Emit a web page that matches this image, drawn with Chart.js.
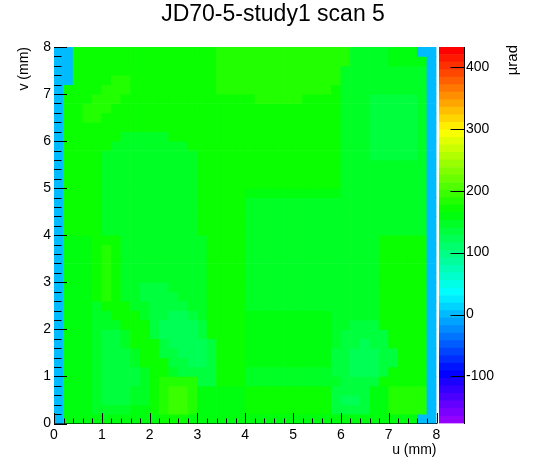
<!DOCTYPE html>
<html lang="en">
<head>
<meta charset="UTF-8">
<title>JD70-5-study1 scan 5</title>
<script src="https://cdn.jsdelivr.net/npm/chart.js"></script>
<style>
  html, body { margin: 0; padding: 0; background: #fff; }
  #wrap { position: relative; width: 546px; height: 472px; }
  .layer { position: absolute; left: 0; top: 0; width: 546px; height: 472px; }
</style>
</head>
<body>
<div id="wrap">
  <div class="layer"><canvas id="mapChart"></canvas></div>
  <div class="layer"><canvas id="barChart"></canvas></div>
</div>
<script>
// bin centres (mm)
const uMid = [0.1, 0.3, 0.5, 0.7, 0.9, 1.1, 1.3, 1.5, 1.7, 1.9,
              2.1, 2.3, 2.5, 2.7, 2.9, 3.1, 3.3, 3.5, 3.7, 3.9,
              4.1, 4.3, 4.5, 4.7, 4.9, 5.1, 5.3, 5.5, 5.7, 5.9,
              6.1, 6.3, 6.5, 6.7, 6.9, 7.1, 7.3, 7.5, 7.7, 7.9];
// rows, top row first
const vMid = [7.9, 7.7, 7.5, 7.3, 7.1, 6.9, 6.7, 6.5, 6.3, 6.1,
              5.9, 5.7, 5.5, 5.3, 5.1, 4.9, 4.7, 4.5, 4.3, 4.1,
              3.9, 3.7, 3.5, 3.3, 3.1, 2.9, 2.7, 2.5, 2.3, 2.1,
              1.9, 1.7, 1.5, 1.3, 1.1, 0.9, 0.7, 0.5, 0.3, 0.1];
const binHalf = 0.1;

const zMin = -175.9;
const zMax = 432;
const zTicks = [-100, 0, 100, 200, 300, 400];

// deflection in µrad, one array per row (top first), one value per u bin
const deflection = [
  [0,0,170,170,170,170,170,170,170,170, 170,170,170,170,170,170,170,182,182,182, 182,182,182,182,182,182,182,182,182,182, 182,146,146,146,146,158,158,158,0,0],
  [0,0,170,170,170,170,170,170,170,170, 170,170,170,170,170,170,170,182,182,182, 182,182,182,182,182,182,182,182,182,182, 182,146,146,146,146,158,158,158,158,0],
  [0,0,170,170,170,170,170,170,170,170, 170,170,170,170,170,170,170,182,182,182, 182,182,182,182,182,182,182,182,182,182, 146,146,146,146,146,146,146,146,146,0],
  [0,0,170,170,170,170,182,182,170,170, 170,170,170,170,170,170,170,182,182,182, 182,182,182,182,182,182,182,182,182,182, 146,146,146,146,146,146,146,146,146,0],
  [0,170,170,170,170,182,182,182,170,170, 170,170,170,170,170,170,170,182,182,182, 182,182,182,182,182,182,182,182,182,170, 146,146,146,146,146,146,146,146,146,0],
  [0,170,170,170,182,182,182,170,170,170, 170,170,170,170,170,170,170,170,170,170, 170,182,182,182,182,182,170,170,170,170, 146,146,146,134,134,134,134,134,146,0],
  [0,170,170,182,182,182,170,170,170,170, 170,170,170,170,170,170,170,170,170,170, 170,170,170,170,170,170,170,170,170,170, 146,146,146,134,134,134,134,134,146,0],
  [0,170,170,182,182,170,170,170,170,170, 170,170,170,170,170,170,170,170,170,170, 170,170,170,170,170,170,170,170,170,170, 146,146,146,134,134,134,134,134,146,0],
  [0,170,170,170,170,170,170,170,170,170, 170,170,170,170,170,170,170,170,170,170, 170,170,170,170,170,170,170,170,170,170, 146,146,146,134,134,134,134,134,146,0],
  [0,170,170,170,170,170,170,146,146,146, 146,146,170,170,170,170,170,170,170,170, 170,170,170,170,170,170,170,170,170,170, 146,146,146,134,134,134,134,134,146,0],
  [0,170,170,170,170,170,146,146,146,146, 146,146,146,146,170,170,170,170,170,170, 170,170,170,170,170,170,170,170,170,170, 146,146,146,134,134,134,134,134,146,0],
  [0,170,170,170,170,146,146,146,146,146, 146,146,146,146,146,170,170,170,170,170, 170,170,170,170,170,170,170,170,170,170, 146,146,146,134,134,134,134,134,146,0],
  [0,170,170,170,170,146,146,146,146,146, 146,146,146,146,146,170,170,170,170,170, 170,170,170,170,170,170,170,170,170,170, 146,146,146,146,146,146,146,146,146,0],
  [0,170,170,170,170,146,146,146,146,146, 146,146,146,146,146,170,170,170,170,170, 170,170,170,170,170,170,170,170,170,170, 146,146,146,146,146,146,146,146,146,0],
  [0,170,170,170,170,146,146,146,146,146, 146,146,146,146,146,170,170,170,170,170, 170,170,170,170,170,170,170,170,170,170, 146,146,146,146,146,146,146,146,146,0],
  [0,170,170,170,170,146,146,146,146,146, 146,146,146,146,146,170,170,170,170,170, 158,158,158,158,158,158,158,158,158,158, 146,146,146,146,146,146,146,146,146,0],
  [0,170,170,170,170,146,146,146,146,146, 146,146,146,146,146,170,170,170,170,170, 146,146,146,146,146,146,146,146,146,146, 146,146,146,146,146,146,146,146,146,0],
  [0,170,170,170,170,146,146,146,146,146, 146,146,146,146,146,170,170,170,170,170, 146,146,146,146,146,146,146,146,146,146, 146,146,146,146,146,146,146,146,146,0],
  [0,170,170,170,170,146,146,146,146,146, 146,146,146,146,146,170,170,170,170,170, 146,146,146,146,146,146,146,146,146,146, 146,146,146,146,146,146,146,146,146,0],
  [0,170,170,170,170,146,146,146,146,146, 146,146,146,146,146,170,170,170,170,170, 146,146,146,146,146,146,146,146,146,146, 146,146,146,146,146,146,146,146,146,0],
  [0,158,158,158,170,170,170,146,146,146, 146,146,146,146,146,146,170,170,170,170, 146,146,146,146,146,146,146,146,146,146, 146,146,146,146,170,170,170,170,170,0],
  [0,158,158,158,170,182,170,146,146,146, 146,146,146,146,146,146,170,170,170,170, 146,146,146,146,146,146,146,146,146,146, 146,146,146,146,170,170,170,170,170,0],
  [0,158,158,158,170,182,170,146,146,146, 146,146,146,146,146,146,170,170,170,170, 146,146,146,146,146,146,146,146,146,146, 146,146,146,146,170,170,170,170,170,0],
  [0,158,158,158,170,182,170,146,146,146, 146,146,146,146,146,146,170,170,170,170, 146,146,146,146,146,146,146,146,146,146, 146,146,146,146,170,170,170,170,170,0],
  [0,158,158,158,170,182,170,146,146,146, 146,146,146,146,146,146,170,170,170,170, 146,146,146,146,146,146,146,146,146,146, 146,146,146,146,170,170,170,170,170,0],
  [0,158,158,158,170,182,170,146,146,134, 134,134,146,146,146,146,170,170,170,170, 146,146,146,146,146,146,146,146,146,146, 146,146,146,146,170,170,170,170,170,0],
  [0,158,158,158,170,182,170,146,146,134, 134,134,134,146,146,146,170,170,170,170, 146,146,146,146,146,146,146,146,146,146, 146,146,146,146,170,170,170,170,170,0],
  [0,158,158,158,146,170,170,170,146,146, 134,134,134,134,146,146,170,170,170,170, 146,146,146,146,146,146,146,146,146,146, 146,146,146,146,170,170,170,170,170,0],
  [0,158,158,158,146,146,170,170,170,146, 134,134,122,122,134,146,170,170,170,170, 158,158,158,158,158,158,158,158,158,146, 146,146,146,146,170,170,170,170,170,0],
  [0,158,158,158,146,146,146,170,170,170, 134,122,122,122,122,134,170,170,170,170, 158,158,158,158,158,158,158,158,158,146, 146,134,134,134,170,170,170,170,170,0],
  [0,158,158,158,146,134,134,146,170,170, 134,122,122,122,122,134,170,170,170,170, 158,158,158,158,158,158,158,158,158,146, 134,134,134,134,134,170,170,170,170,0],
  [0,158,158,158,146,134,134,146,170,170, 170,134,122,122,122,122,134,170,170,170, 158,158,158,158,158,158,158,158,158,146, 134,134,122,134,134,170,170,170,170,0],
  [0,158,158,158,146,134,134,134,146,170, 170,134,134,122,122,122,134,170,170,170, 158,158,158,158,158,158,158,158,158,134, 134,122,122,122,134,134,170,170,170,0],
  [0,158,158,158,146,134,134,134,146,170, 170,170,134,134,122,122,134,170,170,170, 158,158,158,158,158,158,158,158,158,134, 134,122,122,122,134,134,170,170,170,0],
  [0,158,158,158,146,134,134,134,134,146, 170,170,146,134,134,134,134,170,170,170, 146,146,146,146,146,146,146,146,146,134, 134,122,122,122,134,170,170,170,170,0],
  [0,158,158,158,146,134,134,134,134,146, 170,182,182,182,182,134,134,170,170,170, 146,146,146,146,146,146,146,146,146,146, 134,134,134,134,170,170,170,170,170,0],
  [0,158,158,158,146,134,134,134,146,146, 170,182,195,195,182,158,158,158,158,158, 170,170,170,170,170,170,170,170,170,134, 134,134,134,158,158,182,182,182,182,0],
  [0,158,158,158,146,134,134,134,146,146, 170,182,195,195,182,158,158,158,158,158, 170,170,170,170,170,170,170,170,170,134, 122,122,134,158,158,182,182,182,182,0],
  [0,158,158,158,146,146,146,146,158,158, 170,182,195,195,182,158,158,158,158,158, 170,170,170,170,170,170,170,170,170,134, 134,134,134,158,158,182,182,182,182,0],
  [0,158,158,158,158,158,158,158,158,158, 158,170,170,170,158,158,158,158,158,158, 158,158,158,158,158,158,158,158,158,158, 158,158,158,158,158,158,158,158,0,0]
];

// ROOT "pretty" palette: 50 hues from violet to red
const nLevels = 50;
const palette = [];
for (let i = 0; i < nLevels; i++) {
  palette.push('hsl(' + (280 - (i + 1) * 5.6).toFixed(1) + ',100%,50%)');
}
function colorOf(z) {
  let k = Math.floor((z - zMin) / (zMax - zMin) * nLevels);
  k = Math.max(0, Math.min(nLevels - 1, k));
  return palette[k];
}

const fontFamily = "'Liberation Sans', Arial, Helvetica, sans-serif";
Chart.defaults.font.family = fontFamily;
Chart.defaults.color = '#000';

// inward tick marks, ROOT style
const mapTicks = {
  id: 'mapTicks',
  afterDraw(chart) {
    const {ctx, chartArea: a, scales: {x, y}} = chart;
    ctx.save();
    ctx.strokeStyle = '#000';
    ctx.lineWidth = 1;
    ctx.beginPath();
    for (let k = 0; k <= 40; k++) {
      const major = k % 5 === 0;
      const px = Math.round(x.getPixelForValue(k / 5)) + 0.5;
      ctx.moveTo(px, a.bottom);
      ctx.lineTo(px, a.bottom - (major ? 10.5 : 5));
      const py = Math.round(y.getPixelForValue(k / 5)) + 0.5;
      ctx.moveTo(a.left, py);
      ctx.lineTo(a.left + (major ? 13 : 7.5), py);
    }
    ctx.stroke();
    ctx.restore();
  }
};

const mapSets = deflection.map((row, r) => ({
  data: row.map((z, c) => ({x: uMid[c], y: [vMid[r] - binHalf, vMid[r] + binHalf]})),
  backgroundColor: row.map(colorOf)
}));

new Chart(document.getElementById('mapChart'), {
  type: 'bar',
  data: { datasets: mapSets },
  options: {
    responsive: true,
    maintainAspectRatio: false,
    animation: false,
    events: [],
    layout: { padding: 0 },
    datasets: {
      bar: { grouped: false, barPercentage: 1, categoryPercentage: 1, borderWidth: 0 }
    },
    plugins: {
      legend: { display: false },
      tooltip: { enabled: false },
      title: {
        display: true,
        text: 'JD70-5-study1 scan 5',
        font: { size: 23, weight: 'normal' },
        color: '#000',
        padding: { top: 1.2, bottom: 18.2 }
      }
    },
    scales: {
      x: {
        type: 'linear',
        min: 0, max: 8,
        offset: false,
        z: 1,
        grid: { display: false, drawTicks: false },
        border: { display: true, color: '#000', width: 1 },
        ticks: { stepSize: 1, font: { size: 14 }, padding: 3, maxRotation: 0 },
        title: { display: true, text: 'u (mm)', align: 'end', font: { size: 14 }, padding: { top: 0, bottom: 13.6 } },
        afterFit(scale) { scale.height = 48.5; }
      },
      y: {
        type: 'linear',
        min: 0, max: 8,
        z: 1,
        grid: { display: false, drawTicks: false },
        border: { display: true, color: '#000', width: 1 },
        ticks: { stepSize: 1, font: { size: 14 }, padding: 3 },
        title: { display: true, text: 'v (mm)', align: 'end', font: { size: 14 }, padding: { top: 15.6, bottom: 0 } },
        afterFit(scale) { scale.width = 54; }
      },
      // empty strip on the right that leaves room for the colour scale
      side: {
        type: 'linear',
        position: 'right',
        min: 0, max: 1,
        grid: { display: false, drawTicks: false },
        border: { display: false },
        ticks: { display: false },
        afterFit(scale) { scale.width = 109.5; }
      }
    }
  },
  plugins: [mapTicks]
});

// colour scale
const barTicks = {
  id: 'barTicks',
  afterDraw(chart) {
    const {ctx, chartArea: a, scales: {y}} = chart;
    ctx.save();
    ctx.strokeStyle = '#000';
    ctx.lineWidth = 1;
    ctx.beginPath();
    zTicks.forEach(z => {
      const py = Math.round(y.getPixelForValue(z)) + 0.5;
      ctx.moveTo(a.right, py);
      ctx.lineTo(a.right - 13.5, py);
    });
    ctx.stroke();
    ctx.fillStyle = '#000';
    ctx.font = '15px ' + fontFamily;
    ctx.translate(513, a.top - 2);
    ctx.rotate(-Math.PI / 2);
    ctx.textAlign = 'right';
    ctx.textBaseline = 'middle';
    ctx.fillText('µrad', 0, 0);
    ctx.restore();
  }
};

const levelWidth = (zMax - zMin) / nLevels;
const barSets = palette.map((col, i) => ({
  data: [[zMin + i * levelWidth, zMin + (i + 1) * levelWidth]],
  backgroundColor: col
}));

new Chart(document.getElementById('barChart'), {
  type: 'bar',
  data: { labels: [''], datasets: barSets },
  options: {
    responsive: true,
    maintainAspectRatio: false,
    animation: false,
    events: [],
    layout: { padding: { left: 439, right: 0, top: 47, bottom: 48.5 } },
    datasets: {
      bar: { grouped: false, barPercentage: 1, categoryPercentage: 1, borderWidth: 0 }
    },
    plugins: { legend: { display: false }, tooltip: { enabled: false } },
    scales: {
      x: { display: false },
      y: {
        position: 'right',
        min: zMin, max: zMax,
        z: 1,
        grid: { display: false, drawTicks: false },
        border: { display: true, color: '#000', width: 1 },
        ticks: { font: { size: 14 }, padding: 2, callback: v => String(v) },
        afterBuildTicks(scale) { scale.ticks = zTicks.map(v => ({ value: v })); },
        afterFit(scale) { scale.width = 82; }
      }
    }
  },
  plugins: [barTicks]
});
</script>
</body>
</html>
